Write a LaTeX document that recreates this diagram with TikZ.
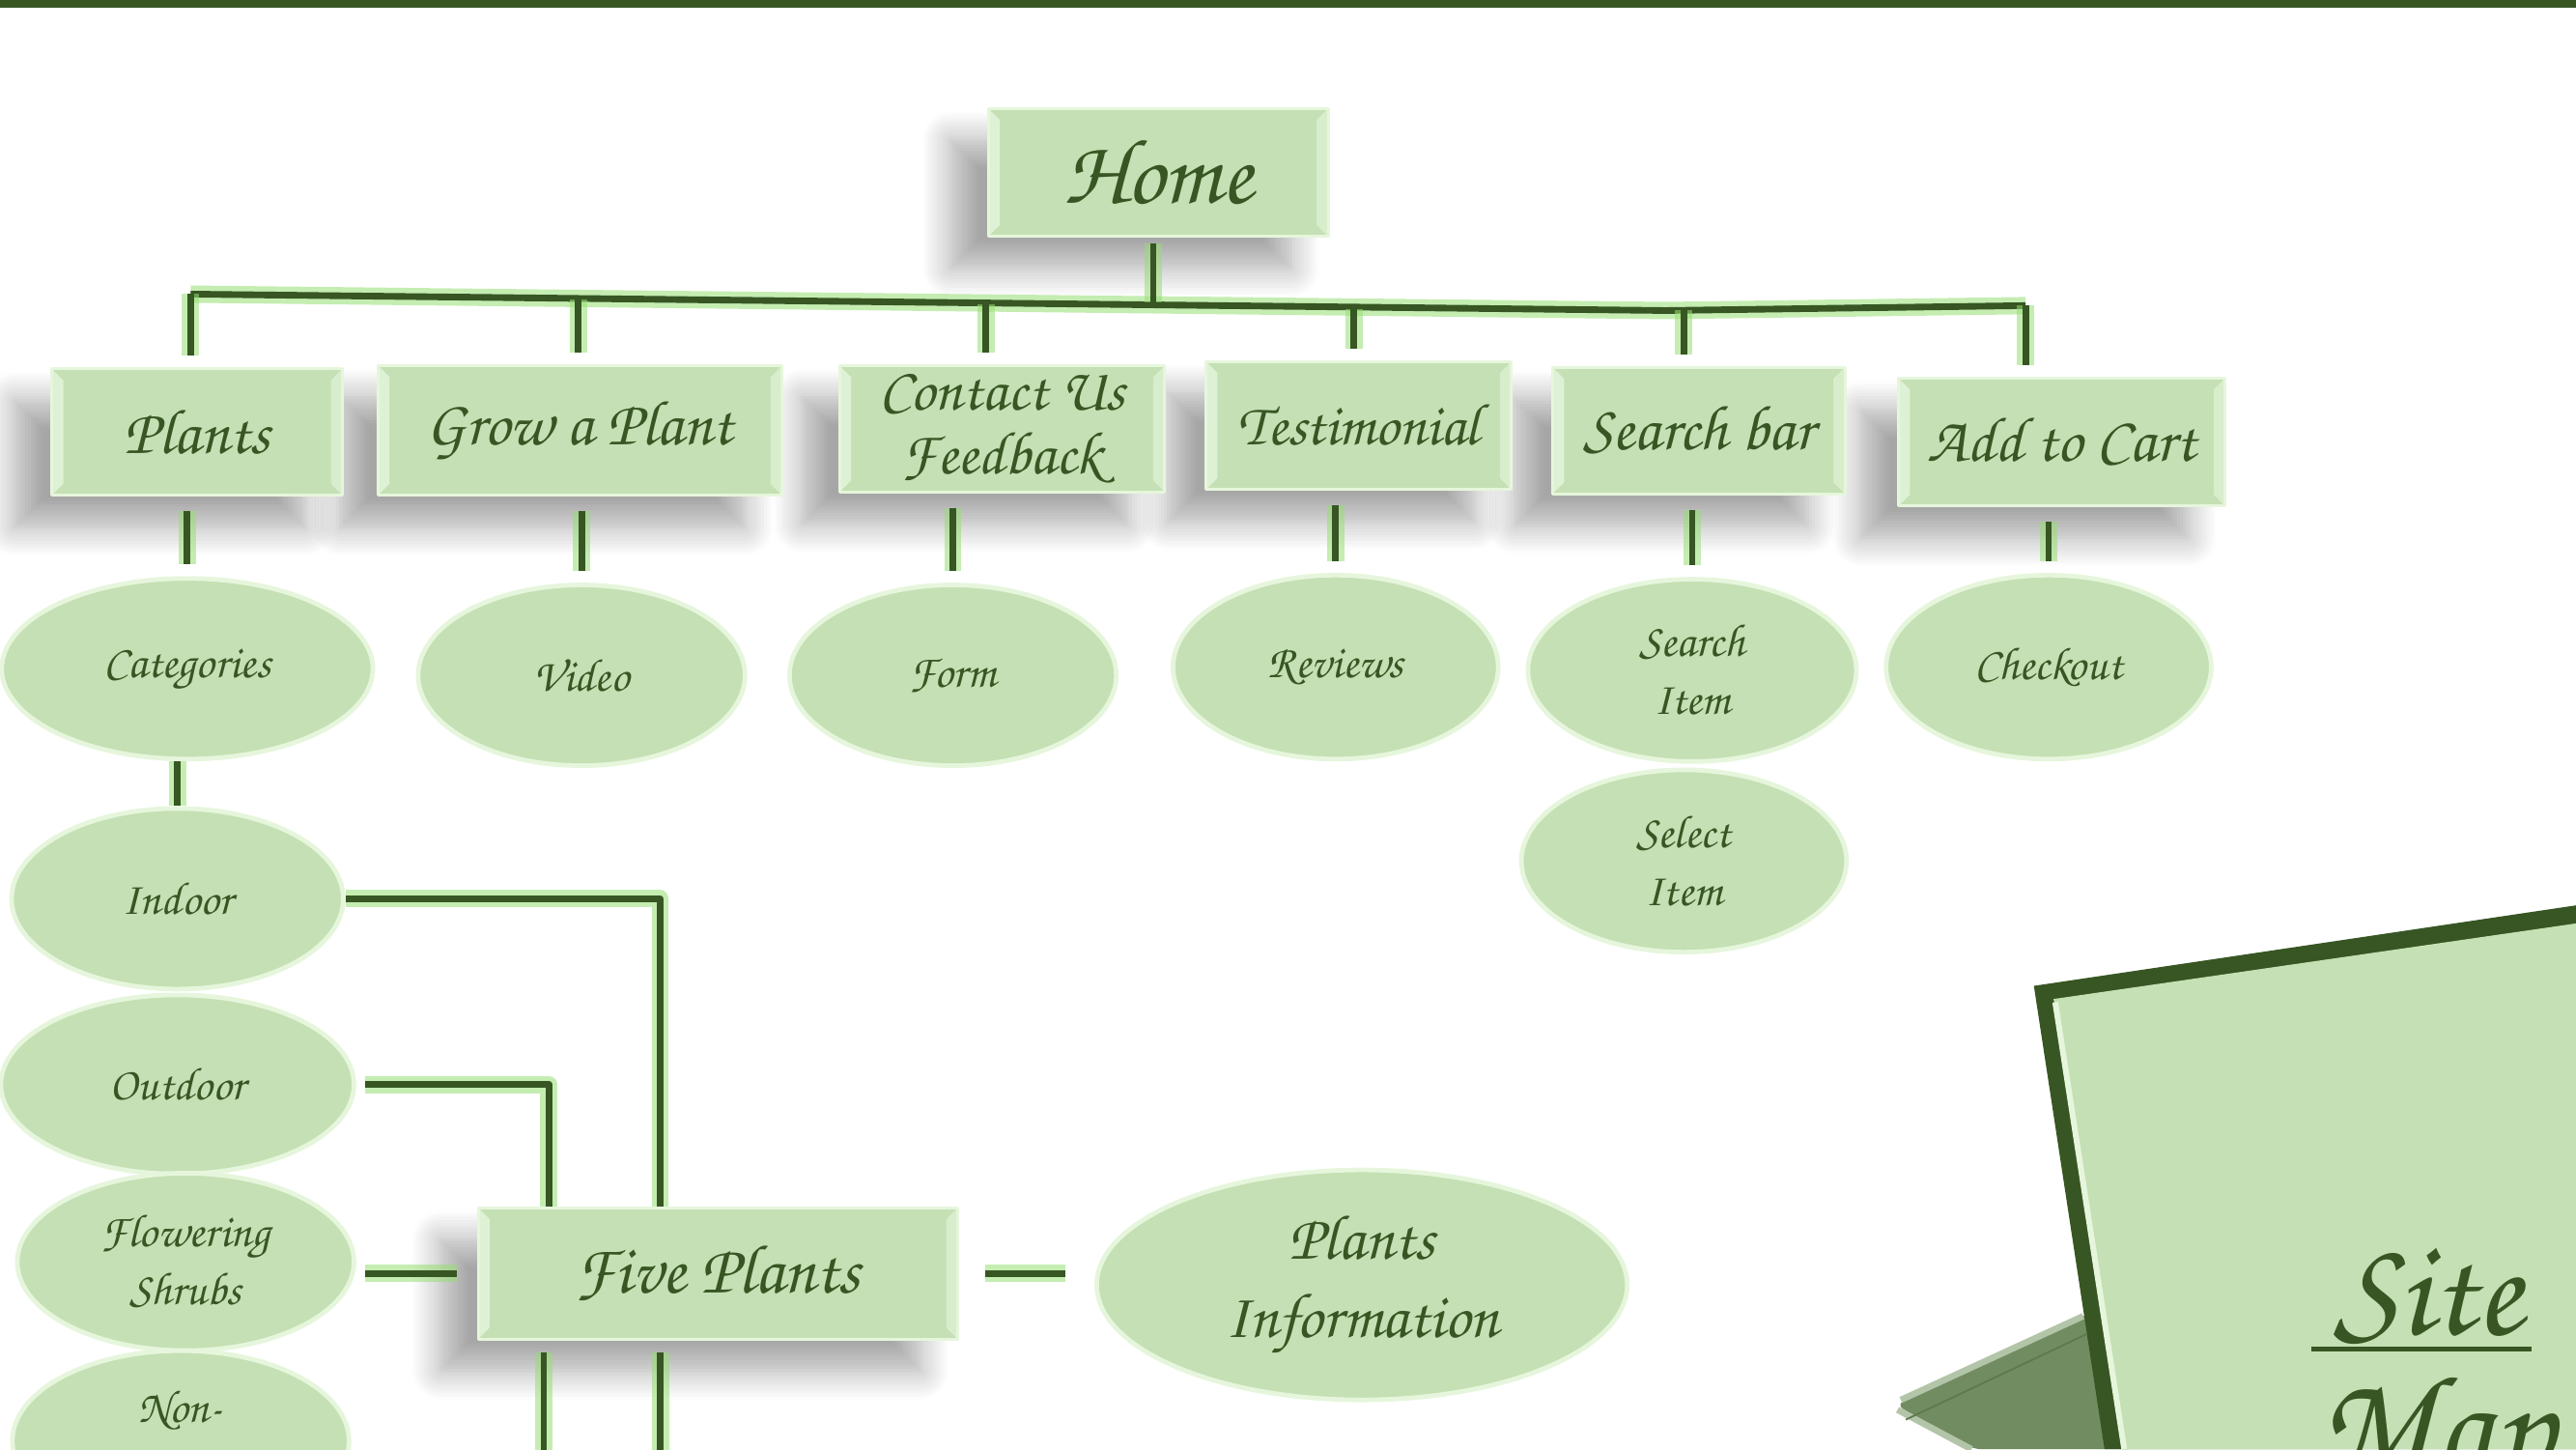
\documentclass[tikz,border=0pt]{standalone}
\usepackage{fontspec}
\usepackage{tikz}
\usetikzlibrary{shapes.geometric,shadows.blur,calc}
\newfontfamily\chanc{texgyrechorus-mediumitalic.otf}
\definecolor{leafdark}{HTML}{375623}
\definecolor{leaffill}{HTML}{C5E0B4}
\definecolor{leafrim}{HTML}{E6F6DC}
\definecolor{leafglow}{HTML}{96DE73}
\definecolor{standgray}{HTML}{728C62}
\definecolor{standlight}{HTML}{B3C5A8}

\begin{document}
\begin{tikzpicture}[x=0.02cm,y=-0.02cm,line join=round]
  \tikzstyle{menu}=[rectangle,fill=leaffill,draw=leafrim,line width=1pt,text=leafdark,
      inner sep=0pt,align=center,font=\chanc\fontsize{22}{23}\selectfont,
      blur shadow={shadow xshift=-13pt,shadow yshift=-11pt,shadow blur radius=10pt,shadow blur steps=10,shadow opacity=35},
      path picture={
        \fill[leafrim,opacity=.8] (path picture bounding box.north west) -- ++(4pt,-4pt)
          -- ([shift={(4pt,4pt)}]path picture bounding box.south west) -- (path picture bounding box.south west) -- cycle;
        \fill[leafrim,opacity=.6] (path picture bounding box.north east) -- ++(-4pt,-4pt)
          -- ([shift={(-4pt,4pt)}]path picture bounding box.south east) -- (path picture bounding box.south east) -- cycle;}]
  \tikzstyle{bubble}=[ellipse,fill=leaffill,draw=leafrim,line width=1.6pt,text=leafdark,
      inner sep=0pt,align=center,font=\chanc\fontsize{16}{20}\selectfont]
  \tikzstyle{link}=[draw=leafdark,line width=2.3pt,preaction={draw=leafglow,line width=6pt,opacity=.55}]
  \tikzstyle{stem}=[link,shorten <=5pt,shorten >=4pt]

  \useasboundingbox (0,0) rectangle (1568,882);
  \clip (0,0) rectangle (1568,882);
  \fill[leafdark] (0,0) rectangle (1568,4.5);

  % site map stand
  \fill[standgray,rounded corners=3pt] (1154,855) -- (1270,799) -- (1300,882) -- (1201,882) -- cycle;
  \draw[standlight,line width=2.2pt] (1157,852) -- (1268,801);
  \draw[standlight,line width=2.2pt] (1155,858) -- (1200,882);
  \draw[leafdark!80,line width=.6pt] (1160,864) -- (1270,812);
  \fill[leafdark] (1238,600) -- (1568,551) -- (1568,882) -- (1281,882) -- cycle;
  \fill[leaffill] (1250,608) -- (1568,562) -- (1568,882) -- (1292,882) -- cycle;
  \draw[leafrim,line width=2pt] (1251,610) -- (1293,882);
  \node[text=leafdark,font=\chanc\fontsize{48}{50}\selectfont,anchor=base] (site) at (1478,812) {Site};
  \draw[leafdark,line width=1.4pt] ($(site.base)+(-71,9)$) -- ($(site.base)+(63,9)$);
  \node[text=leafdark,font=\chanc\fontsize{48}{50}\selectfont,anchor=base west] (map) at (1405,895) {Map};

  % pages
  \node[menu,minimum width=4.14cm,minimum height=1.56cm,font=\chanc\fontsize{32}{34}\selectfont] (home) at (705,105) {Home};

  \node[menu,minimum width=3.98cm,minimum height=1.56cm] (cart) at (1255,269) {Add to Cart};
  \node[menu,minimum width=3.56cm,minimum height=1.54cm] (search) at (1034,262) {Search bar};
  \node[menu,minimum width=3.72cm,minimum height=1.56cm,font=\chanc\fontsize{20.5}{22}\selectfont] (testi) at (827,259) {Testimonial};
  \node[menu,minimum width=3.96cm,minimum height=1.54cm,font=\chanc\fontsize{21}{22}\selectfont] (contact) at (610,261) {Contact Us\\Feedback};
  \node[menu,minimum width=4.92cm,minimum height=1.58cm] (grow) at (353,262) {Grow a Plant};
  \node[menu,minimum width=3.54cm,minimum height=1.54cm] (plants) at (120,263) {Plants};

  \node[bubble,minimum width=4.52cm,minimum height=2.2cm] (cat) at (114,407) {Categories};
  \node[bubble,minimum width=3.98cm,minimum height=2.2cm] (video) at (354,411) {Video};
  \node[bubble,minimum width=3.98cm,minimum height=2.2cm] (form) at (580,411) {Form};
  \node[bubble,minimum width=3.96cm,minimum height=2.24cm] (reviews) at (813,406) {Reviews};
  \node[bubble,minimum width=4cm,minimum height=2.22cm] (sitem) at (1030,408) {Search\\Item};
  \node[bubble,minimum width=3.96cm,minimum height=2.24cm] (checkout) at (1247,406) {Checkout};
  \node[bubble,minimum width=3.96cm,minimum height=2.22cm] (select) at (1025,524) {Select\\Item};

  \node[bubble,minimum width=4.04cm,minimum height=2.2cm] (indoor) at (108,547) {Indoor};
  \node[bubble,minimum width=4.3cm,minimum height=2.18cm] (outdoor) at (108,660) {Outdoor};
  \node[bubble,minimum width=4.1cm,minimum height=2.16cm] (shrubs) at (113,768) {Flowering\\Shrubs};
  \node[bubble,minimum width=4.1cm,minimum height=2.2cm] (nonfl) at (110,877) {Non-\\\phantom{Flowering}};

  \node[menu,minimum width=5.84cm,minimum height=1.6cm,font=\chanc\fontsize{24}{26}\selectfont] (five) at (437,775) {Five Plants};
  \node[bubble,minimum width=6.46cm,minimum height=2.8cm,font=\chanc\fontsize{22}{27}\selectfont] (info) at (829,782) {Plants\\Information};

  % links
  \coordinate (busL) at (116,179);
  \coordinate (busK) at (1014,189);
  \coordinate (busR) at (1233,186);
  \coordinate (hub) at (702,184);
  \draw[link] (busL) -- (busK) -- (busR);
  \draw[link,shorten <=2pt] (hub |- home.south) -- (hub);

  \coordinate (d1) at (116,179);
  \coordinate (d2) at (352,182);
  \coordinate (d3) at (600,185);
  \coordinate (d4) at (824,188);
  \coordinate (d5) at (1025,189);
  \coordinate (d6) at (1233,186);
  \foreach \d/\n in {d1/plants,d2/grow,d3/contact,d4/testi,d5/search,d6/cart}
    \draw[link,shorten >=4pt] (\d) -- (\d |- \n.north);

  \foreach \a/\b in {plants/cat,grow/video,contact/form,testi/reviews,search/sitem,cart/checkout}
    \draw[stem] (\b.north |- \a.south) -- (\b.north);

  \draw[link] (indoor.north |- cat.south) -- (indoor.north);
  \draw[link] (indoor.east) -| ([xshift=-20pt]five.north);
  \draw[link,shorten <=3pt] (outdoor.east) -| ([xshift=-58.6pt]five.north);
  \draw[link,shorten <=3pt,shorten >=7pt] (five.west -| shrubs.east) -- (five.west);
  \draw[link,shorten <=9pt,shorten >=10pt] (five.east) -- (five.east -| info.west);

  \coordinate (downA) at (331,900);
  \coordinate (downB) at (402,900);
  \draw[link,shorten <=4pt] (downA |- five.south) -- (downA);
  \draw[link,shorten <=4pt] (downB |- five.south) -- (downB);
\end{tikzpicture}
\end{document}
